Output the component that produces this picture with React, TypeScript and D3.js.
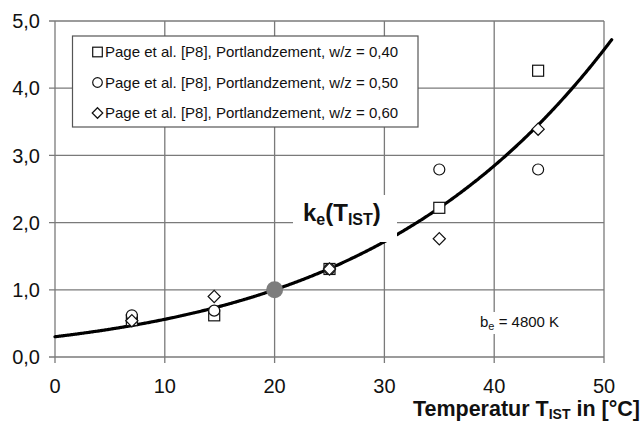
import React from "react";
import * as d3 from "d3";

// Measured rate ratio k_e relative to 20 °C, Page et al. [P8]
const temperatures = [7, 14.5, 25, 35, 44];
const wz040 = [0.55, 0.62, 1.31, 2.22, 4.26];
const wz050 = [0.62, 0.69, 1.31, 2.79, 2.79];
const wz060 = [0.54, 0.9, 1.31, 1.76, 3.39];

const xTicks = [0, 10, 20, 30, 40, 50];
const yTicks = [0, 1, 2, 3, 4, 5];
const yTickLabels = ["0,0", "1,0", "2,0", "3,0", "4,0", "5,0"];

const legendLabels = [
  "Page et al. [P8], Portlandzement, w/z = 0,40",
  "Page et al. [P8], Portlandzement, w/z = 0,50",
  "Page et al. [P8], Portlandzement, w/z = 0,60",
];

// Arrhenius model: k_e(T) = exp(b_e * (1/T_ref - 1/T))
const bE = 4800;
const tRef = 20;
const curveEnd = 50.7;

const FONT = "'Liberation Sans', Arial, Helvetica, sans-serif";
const GRID = "#7a7a7a";
const INK = "#111";

function Marker({ kind, cx, cy, s }: { kind: string; cx: number; cy: number; s: number }) {
  if (kind === "square")
    return <rect x={cx - s} y={cy - s} width={2 * s} height={2 * s} fill="#fff" stroke={INK} strokeWidth={1.2} />;
  if (kind === "circle")
    return <circle cx={cx} cy={cy} r={s} fill="#fff" stroke={INK} strokeWidth={1.2} />;
  const d = s * 1.15;
  return (
    <path
      d={`M${cx},${cy - d}L${cx + d},${cy}L${cx},${cy + d}L${cx - d},${cy}Z`}
      fill="#fff"
      stroke={INK}
      strokeWidth={1.2}
    />
  );
}

export default function App() {
  const width = 643;
  const height = 426;
  const x = d3.scaleLinear().domain([0, 50]).range([55, 604]);
  const y = d3.scaleLinear().domain([0, 5]).range([357, 21]);

  const ke = (t: number) => Math.exp(bE * (1 / (tRef + 273.15) - 1 / (t + 273.15)));
  const curvePts = d3.range(0, curveEnd + 0.001, 0.1).map((t) => [t, ke(t)] as [number, number]);
  const line = d3
    .line<[number, number]>()
    .x((d) => x(d[0]))
    .y((d) => y(d[1]))
    .curve(d3.curveMonotoneX);

  const series = [
    { kind: "square", values: wz040, size: 5.5 },
    { kind: "circle", values: wz050, size: 5.5 },
    { kind: "diamond", values: wz060, size: 5.3 },
  ];

  const x0 = x(0);
  const x1 = x(50);
  const y0 = y(0);
  const y1 = y(5);

  return (
    <svg
      width={width}
      height={height}
      style={{ position: "absolute", left: 0, top: 0, background: "#fff" }}
      fontFamily={FONT}
    >
      <rect x={0} y={0} width={width} height={height} fill="#fff" />

      {/* grid and axes */}
      <g stroke={GRID} strokeWidth={1.3} fill="none">
        {yTicks.map((v) => (
          <line key={"h" + v} x1={x0 - 6} x2={x1} y1={y(v)} y2={y(v)} />
        ))}
        {xTicks.map((v) => (
          <line key={"v" + v} x1={x(v)} x2={x(v)} y1={y1} y2={y0 + 6} />
        ))}
      </g>

      {/* y tick labels */}
      {yTicks.map((v, i) => (
        <text key={"yl" + v} x={40} y={y(v)} dy="0.36em" textAnchor="end" fontSize={20} fill={INK}>
          {yTickLabels[i]}
        </text>
      ))}
      {/* x tick labels */}
      {xTicks.map((v) => (
        <text key={"xl" + v} x={x(v)} y={393} textAnchor="middle" fontSize={20} fill={INK}>
          {v}
        </text>
      ))}

      {/* model curve */}
      <path d={line(curvePts) || ""} fill="none" stroke="#000" strokeWidth={3.2} strokeLinecap="round" />

      {/* measurements */}
      {series.map((s) =>
        s.values.map((v, i) => (
          <Marker key={s.kind + i} kind={s.kind} cx={x(temperatures[i])} cy={y(v)} s={s.size} />
        ))
      )}

      {/* reference point at 20 °C */}
      <circle cx={x(tRef)} cy={y(ke(tRef))} r={8.5} fill="#7d7d7d" />

      {/* curve label */}
      <rect x={293} y={195} width={104} height={47} fill="#fff" />
      <text x={303} y={221} fontSize={24} fontWeight="bold" fill={INK}>
        k
        <tspan fontSize={16} dy={4}>e</tspan>
        <tspan dy={-4}>(T</tspan>
        <tspan fontSize={16} dy={4}>IST</tspan>
        <tspan dy={-4}>)</tspan>
      </text>

      {/* parameter label */}
      <rect x={476} y={312} width={88} height={22} fill="#fff" />
      <text x={480} y={327} fontSize={15} fill={INK}>
        b<tspan fontSize={11} dy={3}>e</tspan>
        <tspan dy={-3}> = 4800 K</tspan>
      </text>

      {/* legend */}
      <rect x={72.5} y={36} width={345.5} height={91} fill="#fff" stroke="#555" strokeWidth={1.2} />
      {legendLabels.map((lab, i) => {
        const cy = 52 + i * 30.5;
        return (
          <g key={lab}>
            <Marker kind={series[i].kind} cx={97.5} cy={cy} s={series[i].kind === "diamond" ? 4.6 : 4.8} />
            <text x={102} y={cy} dx={3} dy="0.36em" fontSize={15} fill={INK}>
              {lab}
            </text>
          </g>
        );
      })}

      {/* axis title */}
      <text x={640} y={416} textAnchor="end" fontSize={21.5} fontWeight="bold" fill={INK}>
        Temperatur T<tspan fontSize={14} dy={3}>IST</tspan>
        <tspan dy={-3}> in [°C]</tspan>
      </text>
    </svg>
  );
}
